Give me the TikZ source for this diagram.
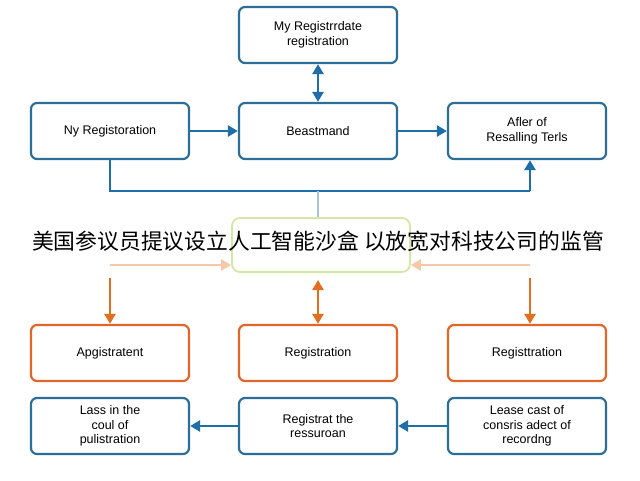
\documentclass[tikz,border=0pt]{standalone}
\usepackage{fontspec}
\setmainfont{Liberation Sans}
\newfontfamily\cjk{Noto Sans CJK SC}
\usetikzlibrary{arrows.meta}
\definecolor{boxblue}{HTML}{2D6E96}
\definecolor{arrblue}{HTML}{1E6FA8}
\definecolor{boxorange}{HTML}{E0662A}
\definecolor{arrorange}{HTML}{E07020}
\definecolor{peach}{HTML}{F5C8A8}
\definecolor{softgreen}{HTML}{D6E6A6}
\tikzset{
    box/.style={draw=boxblue, line width=2.2pt, rounded corners=6pt, minimum width=158pt, minimum height=56pt, align=center, font=\fontsize{12.5}{14.5}\selectfont},
    obox/.style={box, draw=boxorange},
    tip/.style={Triangle[length=10pt,width=11pt]},
    link/.style={arrblue, line width=2.6pt, -{Triangle[length=10pt,width=11pt]}},
    olink/.style={arrorange, line width=2.6pt, -{Triangle[length=10pt,width=11pt]}},
    plink/.style={peach, line width=2.6pt, -{Triangle[length=10pt,width=11pt]}}
}
\begin{document}
\begin{tikzpicture}[x=1pt,y=-1pt]
    \useasboundingbox (0,0) rectangle (640,480);
    \fill[white] (0,0) rectangle (640,480);

    % top rows
    \node[box] (top) at (318,35) {My Registrrdate\\registration};
    \node[box] (left) at (110,131) {Ny Registoration};
    \node[box] (mid) at (318,131) {Beastmand};
    \node[box] (right) at (527,131) {Afler of\\Resalling Terls};

    \draw[link, {Triangle[length=10pt,width=11pt]}-{Triangle[length=10pt,width=11pt]}] (top) -- (mid);
    \draw[link] (left) -- (mid);
    \draw[link] (mid) -- (right);

    % bracket
    \coordinate (bl) at (110,191);
    \coordinate (br) at (530,191);
    \coordinate (bm) at (318,191);
    \draw[arrblue, line width=2.6pt] (left.south -| bl) -- (bl) -- (br);
    \draw[link] (br) -- (right.south -| br);

    % centre box
    \node[draw=softgreen, line width=1.8pt, rounded corners=8pt, minimum width=178pt, minimum height=54pt] (hub) at (321,245) {};
    \draw[arrblue!40, line width=2.6pt] (bm) -- (hub.north -| bm);

    % lower rows
    \node[obox] (ol) at (110,353) {Apgistratent};
    \node[obox] (om) at (318,353) {Registration};
    \node[obox] (or) at (527,353) {Registtration};
    \node[box] (bl2) at (110,426) {Lass in the\\coul of\\pulistration};
    \node[box] (bm2) at (318,426) {Registrat the\\ressuroan};
    \node[box] (br2) at (527,426) {Lease cast of\\consris adect of\\recordng};

    \coordinate (pl) at (110,265);
    \coordinate (pr) at (530,265);
    \draw[plink] (pl) -- (hub.west |- pl);
    \draw[plink] (pr) -- (hub.east |- pr);
    \coordinate (ql) at (110,278);
    \coordinate (qr) at (530,278);
    \draw[olink] (ql) -- (ol.north -| ql);
    \draw[olink] (qr) -- (or.north -| qr);
    \draw[olink, {Triangle[length=10pt,width=11pt]}-{Triangle[length=10pt,width=11pt]}] (318,280) -- (om.north);

    \draw[link] (bm2) -- (bl2);
    \draw[link] (br2) -- (bm2);

    % caption
    \node[font=\cjk\fontsize{21.8}{24}\selectfont, inner sep=0pt] (cap) at (318,241) {美国参议员提议设立人工智能沙盒 以放宽对科技公司的监管};
\end{tikzpicture}
\end{document}
